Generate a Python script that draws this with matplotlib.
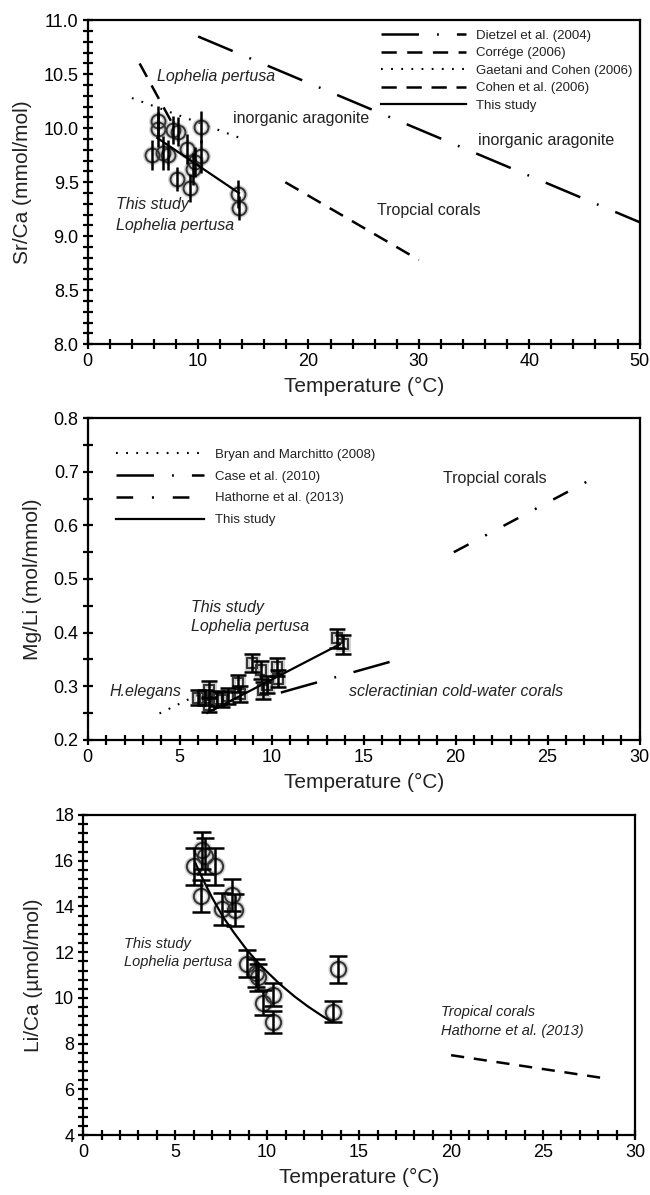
import matplotlib
matplotlib.use('Agg')
import matplotlib.pyplot as plt
from matplotlib.ticker import MultipleLocator, FormatStrFormatter

plt.rcParams['font.family'] = ['Liberation Sans', 'DejaVu Sans']
plt.rcParams['lines.scale_dashes'] = False

# ---- Sr/Ca panel ----
sr_temp = [6.4, 6.4, 7.7, 8.2, 10.3, 5.8, 6.8, 7.3, 9.0, 10.3, 9.7, 9.5, 8.1, 9.3, 13.6, 13.7]
sr_ca = [10.07, 9.99, 9.98, 9.97, 10.01, 9.75, 9.77, 9.75, 9.81, 9.74, 9.69, 9.62, 9.53, 9.45, 9.39, 9.26]
sr_err = [0.14, 0.16, 0.13, 0.13, 0.15, 0.14, 0.16, 0.14, 0.14, 0.15, 0.14, 0.15, 0.11, 0.13, 0.13, 0.11]
sr_fit_t = [6.3, 13.7]
sr_fit = [9.91, 9.40]
dietzel_t = [10.0, 50.0]
dietzel_sr = [10.85, 9.13]
correge_t = [17.9, 30.0]
correge_sr = [9.50, 8.78]
gaetani_t = [4.0, 13.8]
gaetani_sr = [10.28, 9.91]
cohen_t = [4.7, 7.9]
cohen_sr = [10.6, 10.0]

# ---- Mg/Li panel ----
mg_temp = [6.0, 6.4, 6.6, 6.6, 7.0, 7.3, 7.6, 8.15, 8.25, 8.95, 9.4, 9.5, 9.75, 10.3, 10.35, 13.55, 13.85]
mg_li = [0.278, 0.278, 0.293, 0.265, 0.276, 0.275, 0.281, 0.305, 0.285, 0.343,
         0.330, 0.292, 0.303, 0.336, 0.314, 0.389, 0.378]
mg_err = [0.014, 0.014, 0.016, 0.014, 0.014, 0.014, 0.015, 0.016, 0.015, 0.017,
          0.016, 0.016, 0.015, 0.017, 0.016, 0.018, 0.018]
mg_fit_t = [6.5, 13.7]
mg_fit = [0.25, 0.378]
bryan_t = [3.9, 6.3]
bryan_mg = [0.249, 0.289]
case_t = [10.5, 16.5]
case_mg = [0.288, 0.346]
hathorne_t = [19.9, 27.1]
hathorne_mg = [0.55, 0.681]

# ---- Li/Ca panel ----
li_temp = [6.0, 6.45, 6.6, 6.4, 7.15, 7.55, 8.1, 8.25, 8.9, 9.4, 9.5, 9.8, 10.3, 10.3, 13.6, 13.85]
li_ca = [15.75, 16.45, 16.2, 14.45, 15.75, 13.9, 14.5, 13.85, 11.5, 11.1, 10.9, 9.8, 10.15, 8.95, 9.4, 11.25]
li_err = [0.8, 0.8, 0.8, 0.7, 0.8, 0.7, 0.7, 0.7, 0.6, 0.6, 0.6, 0.55, 0.5, 0.5, 0.45, 0.6]
li_fit_t = [6.1, 6.5, 7.0, 7.6, 8.2, 8.9, 9.7, 10.7, 11.5, 12.2, 13.0, 13.5]
li_fit = [15.9, 15.2, 14.4, 13.55, 12.85, 12.1, 11.37, 10.6, 10.06, 9.64, 9.21, 8.96]
trop_li_t = [20.0, 28.1]
trop_li = [7.5, 6.52]

LONG_DASH_DOT = (0, (27, 13, 1.3, 13))
DASH_DOT = (0, (12, 13.5, 1.5, 13.5))
TXT = '#222222'


def style_axes(ax, xlim, ylim, xmaj, xmin, ymaj, ymin, yfmt):
    ax.set_xlim(*xlim)
    ax.set_ylim(*ylim)
    ax.xaxis.set_major_locator(MultipleLocator(xmaj))
    ax.xaxis.set_minor_locator(MultipleLocator(xmin))
    ax.yaxis.set_major_locator(MultipleLocator(ymaj))
    ax.yaxis.set_minor_locator(MultipleLocator(ymin))
    ax.yaxis.set_major_formatter(FormatStrFormatter(yfmt))
    ax.tick_params(which='both', direction='inout', length=7, width=1.6,
                   top=False, right=False, labelsize=13, colors='k', pad=3)
    for s in ax.spines.values():
        s.set_linewidth(1.6)
    ax.set_xlabel('Temperature (°C)', fontsize=15, color=TXT, labelpad=5)


def draw_points(ax, t, v, err, marker, size, capsize):
    ax.errorbar(t, v, yerr=err, fmt='none', ecolor='k', elinewidth=1.8,
                capsize=capsize, capthick=1.8, zorder=4)
    # soft grey halo then the dark outline, like the blurred scan
    ax.plot(t, v, marker, ls='none', ms=size, mfc='none', mec='#b0b0b0',
            mew=3.5, alpha=0.6, zorder=3)
    ax.plot(t, v, marker, ls='none', ms=size, mfc='none', mec='#333333',
            mew=1.4, zorder=3)


fig = plt.figure(figsize=(6.5, 11.95), dpi=100)

# ---------- Sr/Ca ----------
ax1 = fig.add_axes([0.135, 0.712, 0.849, 0.271])
l1, = ax1.plot(dietzel_t, dietzel_sr, color='k', lw=1.8, ls=LONG_DASH_DOT)
l2, = ax1.plot(correge_t, correge_sr, color='k', lw=1.8, ls=(0, (11, 7.5)))
l3, = ax1.plot(gaetani_t, gaetani_sr, color='k', lw=1.5, ls=(0, (1.3, 6)))
l4, = ax1.plot(cohen_t, cohen_sr, color='k', lw=1.8, ls=(0, (11, 7)))
draw_points(ax1, sr_temp, sr_ca, sr_err, 'o', 10, 0)
l5, = ax1.plot(sr_fit_t, sr_fit, color='k', lw=1.6, zorder=5)
style_axes(ax1, (0, 50), (8.0, 11.0), 10, 2, 0.5, 0.1, '%.1f')
ax1.set_ylabel('Sr/Ca (mmol/mol)', fontsize=15, color=TXT, labelpad=8)
ax1.legend([l1, l2, l3, l4, l5],
           ['Dietzel et al. (2004)', 'Corrége (2006)', 'Gaetani and Cohen (2006)',
            'Cohen et al. (2006)', 'This study'],
           loc='upper left', bbox_to_anchor=(0.532, 0.972), frameon=False,
           fontsize=9.5, handlelength=6.45, handletextpad=0.7, labelspacing=0.4,
           borderpad=0, borderaxespad=0, labelcolor=TXT)
ax1.text(6.25, 10.48, 'Lophelia pertusa', style='italic', fontsize=11.5, color=TXT, va='center')
ax1.text(13.2, 10.09, 'inorganic aragonite', fontsize=11.5, color=TXT, va='center')
ax1.text(35.4, 9.89, 'inorganic aragonite', fontsize=11.5, color=TXT, va='center')
ax1.text(26.2, 9.24, 'Tropcial corals', fontsize=11.5, color=TXT, va='center')
ax1.text(2.6, 9.29, 'This study', style='italic', fontsize=11.5, color=TXT, va='center')
ax1.text(2.6, 9.10, 'Lophelia pertusa', style='italic', fontsize=11.5, color=TXT, va='center')

# ---------- Mg/Li ----------
ax2 = fig.add_axes([0.135, 0.381, 0.849, 0.269])
m1, = ax2.plot(bryan_t, bryan_mg, color='k', lw=1.5, ls=(0, (1.3, 6)))
m2, = ax2.plot(case_t, case_mg, color='k', lw=1.8, ls=LONG_DASH_DOT)
m3, = ax2.plot(hathorne_t, hathorne_mg, color='k', lw=1.8, ls=DASH_DOT)
draw_points(ax2, mg_temp, mg_li, mg_err, 's', 7.5, 6)
m4, = ax2.plot(mg_fit_t, mg_fit, color='k', lw=1.6, zorder=5)
style_axes(ax2, (0, 30), (0.2, 0.8), 5, 1, 0.1, 0.05, '%.1f')
ax2.set_ylabel('Mg/Li (mol/mmol)', fontsize=15, color=TXT, labelpad=8)
ax2.legend([m1, m2, m3, m4],
           ['Bryan and Marchitto (2008)', 'Case et al. (2010)',
            'Hathorne et al. (2013)', 'This study'],
           loc='upper left', bbox_to_anchor=(0.052, 0.905), frameon=False,
           fontsize=9.5, handlelength=6.6, handletextpad=0.9, labelspacing=0.72,
           borderpad=0, borderaxespad=0, labelcolor=TXT)
ax2.text(19.3, 0.688, 'Tropcial corals', fontsize=11.5, color=TXT, va='center')
ax2.text(5.6, 0.447, 'This study', style='italic', fontsize=11.5, color=TXT, va='center')
ax2.text(5.6, 0.411, 'Lophelia pertusa', style='italic', fontsize=11.5, color=TXT, va='center')
ax2.text(1.2, 0.290, 'H.elegans', style='italic', fontsize=11.5, color=TXT, va='center')
ax2.text(14.2, 0.290, 'scleractinian cold-water corals', style='italic', fontsize=11.5,
         color=TXT, va='center')

# ---------- Li/Ca ----------
ax3 = fig.add_axes([0.128, 0.050, 0.849, 0.268])
ax3.plot(trop_li_t, trop_li, color='k', lw=1.8, ls=(0, (9.5, 7)))
draw_points(ax3, li_temp, li_ca, li_err, 'o', 11, 6.5)
ax3.plot(li_fit_t, li_fit, color='k', lw=1.6, zorder=5)
style_axes(ax3, (0, 30), (4, 18), 5, 1, 2, 0.4, '%d')
ax3.set_ylabel('Li/Ca (µmol/mol)', fontsize=15, color=TXT, labelpad=8)
ax3.text(2.2, 12.34, 'This study', style='italic', fontsize=10.5, color=TXT, va='center')
ax3.text(2.2, 11.56, 'Lophelia pertusa', style='italic', fontsize=10.5, color=TXT, va='center')
ax3.text(19.45, 9.37, 'Tropical corals', style='italic', fontsize=10.5, color=TXT, va='center')
ax3.text(19.45, 8.56, 'Hathorne et al. (2013)', style='italic', fontsize=10.5, color=TXT,
         va='center')

fig.savefig('out.png', dpi=100)
